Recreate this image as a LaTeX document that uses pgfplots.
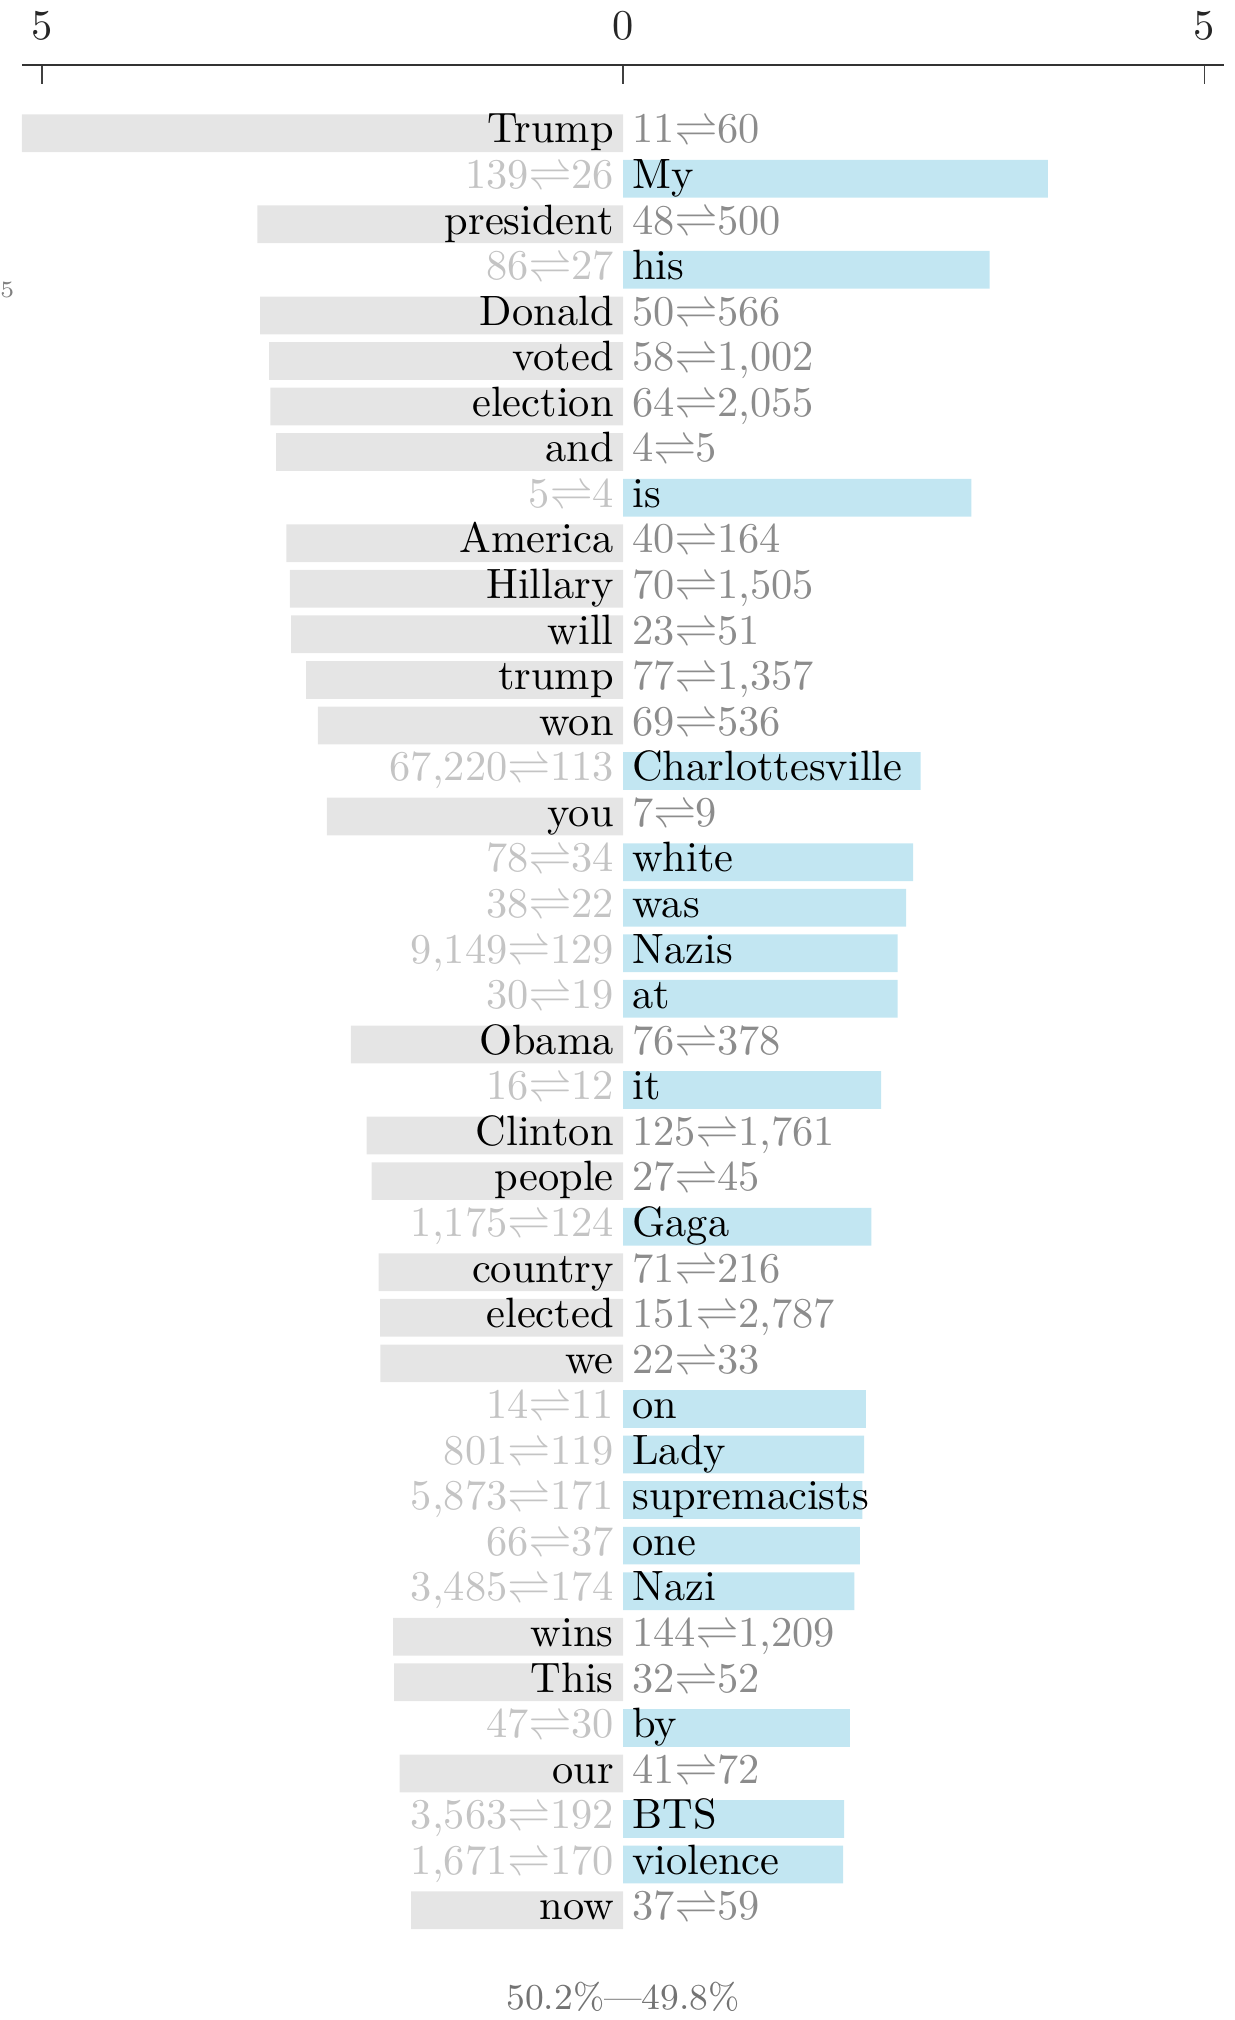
\documentclass[border=0pt]{standalone}
\usepackage{pgfplots}
\usepackage{pgfplotstable}
\pgfplotsset{compat=1.18}
\definecolor{graybar}{HTML}{E5E5E5}
\definecolor{bluebar}{HTML}{C2E6F2}
\protected\def\rl{\ensuremath{\rightleftharpoons}}

\pgfplotstableread{
y v w c
0 -5.170 Trump 11\rl60
2 -3.145 president 48\rl500
4 -3.121 Donald 50\rl566
5 -3.044 voted 58\rl1,002
6 -3.033 election 64\rl2,055
7 -2.984 and 4\rl5
9 -2.895 America 40\rl164
10 -2.866 Hillary 70\rl1,505
11 -2.855 will 23\rl51
12 -2.725 trump 77\rl1,357
13 -2.625 won 69\rl536
15 -2.547 you 7\rl9
20 -2.341 Obama 76\rl378
22 -2.206 Clinton 125\rl1,761
23 -2.163 people 27\rl45
25 -2.103 country 71\rl216
26 -2.089 elected 151\rl2,787
27 -2.086 we 22\rl33
33 -1.977 wins 144\rl1,209
34 -1.968 This 32\rl52
36 -1.922 our 41\rl72
39 -1.822 now 37\rl59
}\leftdata

\pgfplotstableread{
y v w c
1 3.654 My 139\rl26
3 3.152 his 86\rl27
8 2.995 is 5\rl4
14 2.559 Charlottesville 67,220\rl113
16 2.496 white 78\rl34
17 2.435 was 38\rl22
18 2.361 Nazis 9,149\rl129
19 2.361 at 30\rl19
21 2.220 it 16\rl12
24 2.137 Gaga 1,175\rl124
28 2.088 on 14\rl11
29 2.074 Lady 801\rl119
30 2.059 supremacists 5,873\rl171
31 2.036 one 66\rl37
32 1.990 Nazi 3,485\rl174
35 1.950 by 47\rl30
37 1.902 BTS 3,563\rl192
38 1.893 violence 1,671\rl170
}\rightdata

\begin{document}
\begin{tikzpicture}
\begin{axis}[
  scale only axis,
  width=283.4pt, height=451.1pt,
  xmin=-5.17, xmax=5.17,
  ymin=-40.5, ymax=1.5,
  axis x line=top,
  axis y line=none,
  x axis line style={-, black!80, line width=0.5pt},
  xtick={-5,0,5}, xticklabels={5,0,5},
  xtick align=inside,
  major tick length=4.45pt,
  xtick style={black!75, line width=0.4pt},
  xticklabel style={font=\fontsize{10}{12}\selectfont, text=black!85, inner ysep=2.7pt, yshift=2.8pt},
  ytick=\empty,
  clip=false,
]
\addplot[xbar, bar width=0.828, bar shift=0pt, fill=graybar, draw=none]
  table[x=v, y expr=-\thisrow{y}] {\leftdata};
\addplot[xbar, bar width=0.828, bar shift=0pt, fill=bluebar, draw=none]
  table[x=v, y expr=-\thisrow{y}] {\rightdata};

% words on grey bars
\addplot[draw=none, mark=none, point meta=explicit symbolic, nodes near coords,
  every node near coord/.append style={anchor=base east, inner xsep=2pt, yshift=-2.3pt,
    font=\fontsize{10}{12}\selectfont, text=black}]
  table[x expr=0, y expr=-\thisrow{y}, meta=w] {\leftdata};
% counts beside grey bars
\addplot[draw=none, mark=none, point meta=explicit symbolic, nodes near coords,
  every node near coord/.append style={anchor=base west, inner xsep=2pt, yshift=-2.3pt,
    font=\fontsize{10}{12}\selectfont, text=black!45}]
  table[x expr=0, y expr=-\thisrow{y}, meta=c] {\leftdata};
% words on blue bars
\addplot[draw=none, mark=none, point meta=explicit symbolic, nodes near coords,
  every node near coord/.append style={anchor=base west, inner xsep=2pt, yshift=-2.3pt,
    font=\fontsize{10}{12}\selectfont, text=black}]
  table[x expr=0, y expr=-\thisrow{y}, meta=w] {\rightdata};
% counts beside blue bars
\addplot[draw=none, mark=none, point meta=explicit symbolic, nodes near coords,
  every node near coord/.append style={anchor=base east, inner xsep=2pt, yshift=-2.3pt,
    font=\fontsize{10}{12}\selectfont, text=black!23}]
  table[x expr=0, y expr=-\thisrow{y}, meta=c] {\rightdata};

\node[anchor=base, inner ysep=2pt, text=black!55, font=\fontsize{8.6}{10}\selectfont]
  at (axis cs:0,-41.18) {50.2\%---49.8\%};
\node[anchor=east, inner sep=0pt, xshift=-1.6pt, text=black!50, font=\fontsize{5.5}{6}\selectfont]
  at (axis cs:-5.17,-3.45) {5};
\path (rel axis cs:1,1) ++(2.4pt,0pt);
\end{axis}
\end{tikzpicture}
\end{document}
